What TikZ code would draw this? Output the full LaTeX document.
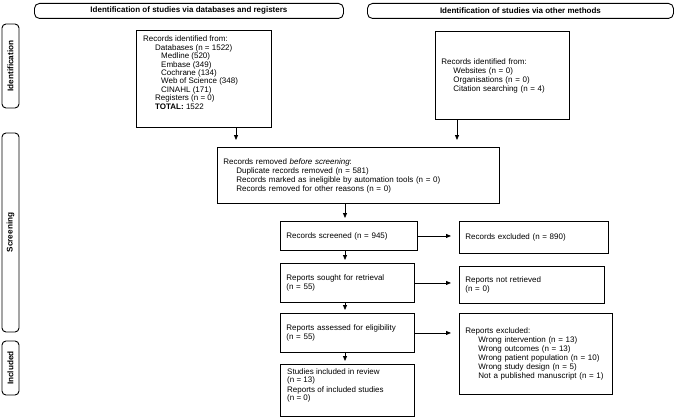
\documentclass[tikz,border=0pt]{standalone}
\usepackage{fontspec}
\setmainfont{Liberation Sans}
\usetikzlibrary{arrows.meta,calc}
\begin{document}
\begin{tikzpicture}[x=1pt,y=-1pt,
  bx/.style={draw,line width=0.9pt,anchor=north west,align=left,inner xsep=6pt,inner ysep=2pt,font=\fontsize{8}{9}\selectfont},
  txt/.style={anchor=north west,align=left,inner sep=0pt,font=\fontsize{8}{9}\selectfont},
  hdr/.style={draw,line width=0.9pt,rounded corners=5pt,anchor=north west,font=\bfseries\fontsize{8}{9}\selectfont,inner sep=0pt},
  side/.style={draw,line width=0.9pt,rounded corners=4pt,rotate=90,inner sep=0pt,font=\bfseries\fontsize{8.2}{9}\selectfont},
  arr/.style={line width=0.8pt,-{Triangle[length=5pt,width=4pt]}},
]
\useasboundingbox (0,0) rectangle (676,417);
% headers
\node[hdr,minimum width=309pt,minimum height=15pt] (h1) at (34,3) {Identification of studies via databases and registers};
\node[hdr,minimum width=306pt,minimum height=15pt] (h2) at (367,3) {Identification of studies via other methods};
% side labels
\node[side,minimum width=84pt,minimum height=17pt] (s1) at (10.5,66) {Identification};
\node[side,minimum width=199pt,minimum height=17pt] (s2) at (10.5,232.5) {Screening};
\node[side,minimum width=54pt,minimum height=17pt] (s3) at (10.5,368) {Included};
% boxes
\node[bx,minimum width=135pt,minimum height=97pt] (rec1) at (136,30) {};
\node[txt,font=\fontsize{8}{8.4}\selectfont] (rec1t) at ($(rec1.north west)+(7,6)$) {Records identified from:\\
\hspace*{12pt}Databases (n = 1522)\\
\hspace*{18pt}Medline (520)\\
\hspace*{18pt}Embase (349)\\
\hspace*{18pt}Cochrane (134)\\
\hspace*{18pt}Web of Science (348)\\
\hspace*{18pt}CINAHL (171)\\
\hspace*{12pt}Registers (n = 0)\\
\hspace*{12pt}\textbf{TOTAL:} 1522};
\node[bx,minimum width=134pt,minimum height=88pt,text width=122pt] (rec2) at (435,31) {Records identified from:\\
\hspace*{12pt}Websites (n = 0)\\
\hspace*{12pt}Organisations (n = 0)\\
\hspace*{12pt}Citation searching (n = 4)};
\node[bx,minimum width=282pt,minimum height=56pt,text width=270pt] (rem) at (217,147) {Records removed \textit{before screening}:\\
\hspace*{13pt}Duplicate records removed (n = 581)\\
\hspace*{13pt}Records marked as ineligible by automation tools (n = 0)\\
\hspace*{13pt}Records removed for other reasons (n = 0)};
\node[bx,minimum width=137pt,minimum height=29pt,text width=125pt] (scr) at (280,221) {Records screened (n = 945)};
\node[bx,minimum width=149pt,minimum height=32pt,text width=137pt] (exc) at (459,221) {Records excluded (n = 890)};
\node[bx,minimum width=134pt,minimum height=39pt,text width=122pt] (sou) at (280,263) {Reports sought for retrieval\\(n = 55)};
\node[bx,minimum width=145pt,minimum height=37pt,text width=133pt] (nre) at (459,266) {Reports not retrieved\\(n = 0)};
\node[bx,minimum width=134pt,minimum height=39pt,text width=122pt] (ass) at (280,313) {Reports assessed for eligibility\\(n = 55)};
\node[bx,minimum width=153pt,minimum height=81pt,text width=141pt] (rex) at (459,313) {Reports excluded:\\
\hspace*{13pt}Wrong intervention (n = 13)\\
\hspace*{13pt}Wrong outcomes (n = 13)\\
\hspace*{13pt}Wrong patient population (n = 10)\\
\hspace*{13pt}Wrong study design (n = 5)\\
\hspace*{13pt}Not a published manuscript (n = 1)};
\node[bx,minimum width=134pt,minimum height=52pt] (inc) at (280,364) {};
\node[txt,font=\fontsize{8}{8}\selectfont] (inct) at ($(inc.north west)+(7,4)$) {Studies included in review\\(n = 13)\\[2.5pt]Reports of included studies\\(n = 0)};
% helper coordinates
\coordinate (ca) at ($(rec1.south west)+(100,0)$);
\coordinate (cb) at ($(rec2.south west)+(22,0)$);
\coordinate (cc) at ($(scr.north west)+(65,0)$);
% arrows
\draw[arr,shorten >=7pt] (ca) -- (ca |- rem.north);
\draw[arr,shorten >=7pt] (cb) -- (cb |- rem.north);
\draw[arr,shorten >=3pt] (rem.south -| cc) -- (scr.north -| cc);
\draw[arr,shorten >=3pt] (scr.south -| cc) -- (sou.north -| cc);
\draw[arr,shorten >=3pt] (sou.south -| cc) -- (ass.north -| cc);
\draw[arr,shorten >=3pt] (ass.south -| cc) -- (inc.north -| cc);
\draw[arr,shorten >=8pt] (scr.east) -- (scr.east -| exc.west);
\draw[arr,shorten >=8pt] (sou.east) -- (sou.east -| nre.west);
\draw[arr,shorten >=8pt] (ass.east) -- (ass.east -| rex.west);
\end{tikzpicture}
\end{document}
